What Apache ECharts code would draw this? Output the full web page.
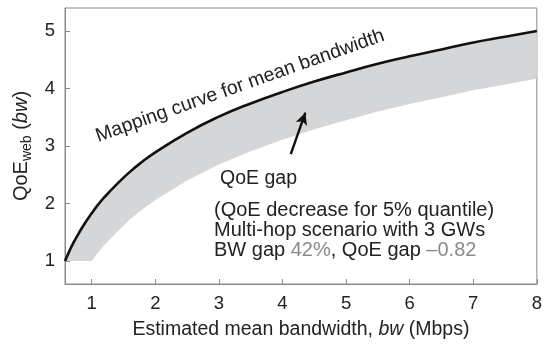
<!DOCTYPE html>
<html>
<head>
<meta charset="utf-8">
<script src="https://cdn.jsdelivr.net/npm/echarts@6/dist/echarts.min.js"></script>
<style>
html,body{margin:0;padding:0;background:#fff;}
#c{width:545px;height:345px;}
</style>
</head>
<body>
<div id="c"></div>
<script>
// Data
var bw =        [0.58, 0.62, 0.66, 0.70, 0.80, 0.90, 1.00, 1.10, 1.20, 1.40, 1.60, 1.80, 2.00, 2.50, 3.00, 3.50, 4.00, 4.50, 5.00, 5.50, 6.00, 6.50, 7.00, 7.50, 8.00];
var qoeMean =   [1.00, 1.10, 1.20, 1.29, 1.49, 1.67, 1.83, 1.98, 2.11, 2.34, 2.55, 2.73, 2.89, 3.23, 3.51, 3.74, 3.94, 4.12, 4.28, 4.43, 4.56, 4.68, 4.80, 4.90, 5.00];
var qoeLow =    [1.00, 1.00, 1.00, 1.00, 1.00, 1.00, 1.00, 1.15, 1.28, 1.51, 1.72, 1.90, 2.06, 2.40, 2.68, 2.91, 3.11, 3.29, 3.45, 3.60, 3.73, 3.85, 3.97, 4.07, 4.17];
var xTicks = [1, 2, 3, 4, 5, 6, 7, 8];
var yTicks = [1, 2, 3, 4, 5];
var arrowFrom = [4.13, 2.86];
var arrowTo = [4.36, 3.58];

var FONT = "'Liberation Sans', Arial, Helvetica, sans-serif";
var chart = echarts.init(document.getElementById('c'), null, {renderer: 'canvas'});

var meanData = bw.map(function (x, i) { return [x, qoeMean[i]]; });

chart.setOption({
  animation: false,
  backgroundColor: '#fff',
  grid: {left: 65, right: 4, top: 8, bottom: 60, show: true, borderColor: '#8a8a8a', borderWidth: 1},
  xAxis: {
    type: 'value', min: 0.58, max: 8,
    axisLine: {show: true, lineStyle: {color: '#8a8a8a', width: 1}},
    axisTick: {show: true, inside: true, length: 5, lineStyle: {color: '#8a8a8a'}, customValues: xTicks},
    axisLabel: {color: '#222', fontSize: 18.5, fontFamily: FONT, margin: 10, customValues: xTicks},
    splitLine: {show: false},
    name: '{a|Estimated mean bandwidth, }{i|bw}{a| (Mbps)}',
    nameLocation: 'middle', nameGap: 36,
    nameTextStyle: {
      rich: {
        a: {fontSize: 19.5, fontFamily: FONT, color: '#222'},
        i: {fontSize: 19.5, fontFamily: FONT, color: '#222', fontStyle: 'italic'}
      }
    }
  },
  yAxis: {
    type: 'value', min: 0.6, max: 5.4,
    axisLine: {show: true, lineStyle: {color: '#8a8a8a', width: 1}},
    axisTick: {show: true, inside: true, length: 5, lineStyle: {color: '#8a8a8a'}, customValues: yTicks},
    axisLabel: {color: '#222', fontSize: 18.5, fontFamily: FONT, margin: 10, customValues: yTicks},
    splitLine: {show: false},
    name: '{a|QoE}{s|web}{a| (}{i|bw}{a|)}',
    nameLocation: 'middle', nameGap: 31, nameRotate: 90,
    nameTextStyle: {
      rich: {
        a: {fontSize: 20, fontFamily: FONT, color: '#222', lineHeight: 24},
        i: {fontSize: 20, fontFamily: FONT, color: '#222', fontStyle: 'italic', lineHeight: 24},
        s: {fontSize: 14, fontFamily: FONT, color: '#222', verticalAlign: 'bottom', lineHeight: 24, padding: [6, 0, 0, 0]}
      }
    }
  },
  series: [
    {
      type: 'custom',
      coordinateSystem: 'cartesian2d',
      silent: true,
      z: 1,
      data: [[bw[0], qoeMean[0]]],
      renderItem: function (params, api) {
        var pts = [];
        for (var i = 0; i < bw.length; i++) pts.push(api.coord([bw[i], qoeMean[i]]));
        for (var j = bw.length - 1; j >= 0; j--) pts.push(api.coord([bw[j], qoeLow[j]]));
        return {type: 'polygon', shape: {points: pts}, style: {fill: '#d5d6d8', stroke: null}};
      }
    },
    {
      type: 'line',
      data: meanData,
      smooth: true,
      showSymbol: false,
      z: 3,
      lineStyle: {color: '#111', width: 2.6},
      markLine: {
        silent: true,
        symbol: ['none', 'arrow'],
        symbolSize: [9, 12],
        label: {show: false},
        lineStyle: {color: '#111', width: 2.4, type: 'solid'},
        data: [[{coord: arrowFrom}, {coord: arrowTo}]]
      }
    }
  ],
  graphic: [
    {
      type: 'text', x: 240, y: 86, rotation: 19.5 * Math.PI / 180,
      style: {text: 'Mapping curve for mean bandwidth', font: "19.5px " + FONT, fill: '#222', align: 'center', verticalAlign: 'middle'}
    },
    {
      type: 'text', x: 220, y: 179,
      style: {text: 'QoE gap', font: "19.5px " + FONT, fill: '#222', align: 'left', verticalAlign: 'middle'}
    },
    {
      type: 'text', x: 214, y: 210,
      style: {text: '(QoE decrease for 5% quantile)', font: "20px " + FONT, fill: '#222', align: 'left', verticalAlign: 'middle'}
    },
    {
      type: 'text', x: 214, y: 230,
      style: {text: 'Multi-hop scenario with 3 GWs', font: "20px " + FONT, fill: '#222', align: 'left', verticalAlign: 'middle'}
    },
    {
      type: 'text', x: 214, y: 250,
      style: {
        text: '{a|BW gap }{g|42%}{a|, QoE gap }{g|\u20130.82}',
        align: 'left', verticalAlign: 'middle',
        rich: {
          a: {fontSize: 20, fontFamily: FONT, fill: '#222', color: '#222'},
          g: {fontSize: 20, fontFamily: FONT, fill: '#8a8a8a', color: '#8a8a8a'}
        }
      }
    }
  ]
});
</script>
</body>
</html>
